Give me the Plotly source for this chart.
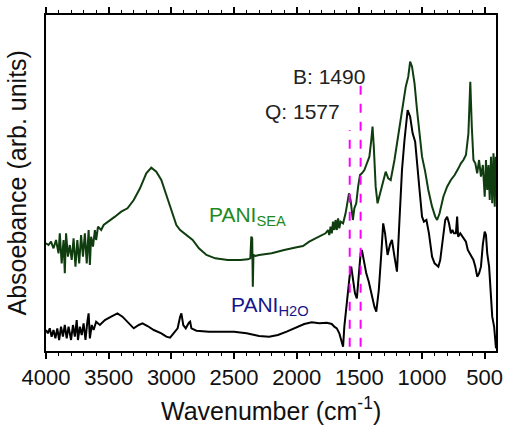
import plotly.graph_objects as go

# PANI_SEA spectrum (wavenumber, absorbance arb. units)
sea_wn = [4000, 3980, 3960, 3940, 3920, 3900, 3890, 3875, 3860, 3850, 3840, 3825, 3810, 3795, 3780, 3765,
          3750, 3735, 3720, 3705, 3690, 3675, 3660, 3650, 3640, 3625, 3610, 3600, 3585, 3560, 3540, 3500,
          3450, 3400, 3350, 3300, 3250, 3200, 3160, 3120, 3080, 3040, 3000, 2960, 2930, 2880, 2830, 2780,
          2720, 2650, 2550, 2450, 2390, 2370, 2362, 2355, 2350, 2345, 2330, 2300, 2200, 2100, 2050, 2000,
          1950, 1900, 1850, 1800, 1770, 1750, 1740, 1730, 1720, 1710, 1700, 1690, 1680, 1670, 1660, 1650,
          1630, 1610, 1595, 1583, 1570, 1560, 1552, 1540, 1525, 1510, 1495, 1480, 1460, 1445, 1420, 1405,
          1395, 1385, 1370, 1355, 1335, 1310, 1290, 1270, 1250, 1220, 1190, 1160, 1130, 1110, 1095, 1080,
          1060, 1040, 1020, 1000, 975, 950, 920, 895, 880, 860, 830, 800, 770, 740, 710, 690,
          670, 650, 630, 615, 603, 590, 575, 560, 545, 530, 515, 500, 490, 480, 470, 460,
          450, 440, 430, 420, 412]
sea_abs = [32.3, 31.8, 32.8, 30.8, 33.3, 29.3, 35.3, 26.3, 33.3, 23.3, 35.3, 28.3, 31.8, 27.3, 33.8, 25.3,
           33.3, 26.3, 34.8, 28.3, 35.3, 26.3, 36.3, 25.8, 34.3, 31.3, 36.3, 33.3, 37.3, 36.3, 37.8, 38.8,
           40.3, 41.8, 42.8, 45.3, 48.8, 53.3, 55.0, 53.8, 51.3, 46.8, 42.3, 37.8, 36.3, 34.8, 33.3, 30.8,
           28.8, 27.8, 27.3, 27.3, 27.5, 27.8, 34.3, 33.8, 19.3, 28.8, 28.5, 28.8, 29.3, 30.3, 30.8, 31.1,
           31.5, 32.8, 33.8, 34.8, 35.3, 36.3, 34.8, 37.3, 35.3, 38.8, 36.3, 39.3, 36.3, 39.8, 36.8, 38.8,
           38.3, 41.3, 44.3, 47.3, 45.3, 41.3, 39.3, 42.8, 44.3, 49.3, 52.8, 53.3, 54.3, 55.8, 58.3, 63.3,
           67.3, 61.3, 49.3, 44.3, 47.3, 51.3, 53.8, 51.8, 51.3, 57.3, 64.3, 72.3, 79.3, 82.3, 86.8, 85.3,
           80.3, 72.3, 64.3, 58.3, 53.8, 48.3, 43.3, 40.3, 39.3, 41.3, 46.3, 49.3, 51.3, 52.8, 54.8, 56.3,
           57.3, 58.8, 65.3, 80.8, 67.3, 57.3, 56.3, 53.3, 57.3, 52.3, 55.8, 46.3, 57.3, 48.3, 55.8, 45.3,
           58.3, 44.3, 59.3, 43.3, 58.3]

# PANI_H2O spectrum
h2o_wn = [4000, 3985, 3970, 3955, 3940, 3925, 3910, 3895, 3880, 3865, 3850, 3835, 3820, 3800, 3785, 3770,
          3755, 3745, 3730, 3715, 3700, 3685, 3670, 3660, 3650, 3635, 3620, 3600, 3570, 3530, 3480, 3430,
          3390, 3340, 3300, 3260, 3230, 3190, 3140, 3080, 3040, 3010, 2980, 2950, 2930, 2920, 2905, 2885,
          2860, 2850, 2840, 2800, 2700, 2600, 2500, 2400, 2300, 2220, 2150, 2080, 2000, 1940, 1880, 1820,
          1760, 1720, 1700, 1680, 1660, 1640, 1630, 1620, 1605, 1590, 1578, 1565, 1552, 1535, 1520, 1505,
          1490, 1480, 1465, 1445, 1425, 1400, 1380, 1365, 1345, 1325, 1310, 1295, 1275, 1255, 1240, 1220,
          1200, 1180, 1160, 1140, 1115, 1095, 1075, 1055, 1040, 1020, 1000, 985, 965, 945, 920, 900,
          885, 870, 855, 835, 815, 800, 785, 770, 758, 745, 730, 720, 712, 695, 670, 650,
          635, 620, 605, 590, 575, 560, 545, 530, 515, 500, 490, 480, 465, 450, 440, 425,
          415, 410]
h2o_abs = [6.3, 5.3, 6.8, 4.3, 6.3, 3.8, 6.8, 3.3, 7.3, 4.3, 7.8, 3.8, 7.3, 3.3, 7.8, 4.3,
           9.3, 3.3, 7.3, 4.8, 8.3, 3.3, 8.8, 11.3, 3.8, 7.8, 6.3, 8.8, 7.8, 9.3, 10.3, 11.3,
           10.3, 8.5, 6.8, 7.8, 8.3, 7.5, 6.3, 5.3, 4.3, 4.0, 5.3, 6.8, 10.3, 11.3, 7.8, 6.8,
           8.5, 8.8, 6.8, 6.1, 5.8, 5.7, 5.8, 5.3, 4.5, 4.3, 4.8, 5.8, 7.0, 8.1, 8.6, 8.3,
           8.5, 8.1, 7.3, 6.8, 5.3, 2.8, 1.3, 7.3, 13.3, 18.3, 22.3, 25.3, 22.3, 17.3, 15.8, 22.3,
           29.3, 30.3, 27.3, 23.3, 20.8, 16.3, 13.3, 11.8, 18.3, 29.3, 38.3, 35.3, 28.8, 32.0, 33.3, 28.3,
           23.8, 39.3, 54.3, 63.3, 72.3, 70.3, 65.3, 62.8, 57.3, 48.3, 40.3, 38.8, 39.3, 35.3, 28.3, 26.3,
           25.8, 25.3, 27.3, 33.3, 39.3, 40.3, 38.3, 35.3, 36.3, 35.3, 35.3, 40.3, 34.3, 35.3, 33.8, 32.8,
           30.3, 29.3, 28.3, 27.3, 25.3, 22.3, 23.3, 25.3, 32.0, 35.8, 34.8, 29.3, 25.3, 17.3, 10.3, 7.3,
           1.3, 0.8]

# marker lines at band positions
marker_wn = [1577, 1490]
marker_top = [66.3, 79.8]
marker_bottom = 1.3

x_range = [4000, 410]
y_range = [0, 100.8]
major_step = 500
minor_step = 100

FONT = "Liberation Sans, Arial, sans-serif"

fig = go.Figure()
fig.add_trace(go.Scatter(x=sea_wn, y=sea_abs, mode="lines",
                         line=dict(color="#0f3d0f", width=2), showlegend=False))
fig.add_trace(go.Scatter(x=h2o_wn, y=h2o_abs, mode="lines",
                         line=dict(color="#000000", width=2), showlegend=False))
for wn, top in zip(marker_wn, marker_top):
    fig.add_trace(go.Scatter(x=[wn, wn], y=[marker_bottom, top], mode="lines",
                             line=dict(color="#ff00ff", width=2, dash="dash"), showlegend=False))
# empty trace on the top / right frame axes so that they are drawn
fig.add_trace(go.Scatter(x=x_range, y=[None, None], xaxis="x2", yaxis="y2", mode="lines",
                         showlegend=False, hoverinfo="skip"))

fig.add_annotation(x=1440, y=82.5, text="B: 1490", showarrow=False, xanchor="right",
                   font=dict(family=FONT, size=21, color="#222222"))
fig.add_annotation(x=1640, y=71.8, text="Q: 1577", showarrow=False, xanchor="right",
                   font=dict(family=FONT, size=21, color="#222222"))
fig.add_annotation(x=2715, y=40.5, text="PANI<sub>SEA</sub>", showarrow=False, xanchor="left",
                   font=dict(family=FONT, size=21, color="#1e8a1e"))
fig.add_annotation(x=2540, y=13.5, text="PANI<sub>H2O</sub>", showarrow=False, xanchor="left",
                   font=dict(family=FONT, size=21, color="#16168a"))

fig.add_annotation(xref="paper", yref="paper", x=0.5, y=-0.118, yanchor="top",
                   text="Wavenumber (cm<sup>-1</sup>)", showarrow=False,
                   font=dict(family=FONT, size=25, color="#111111"))
fig.add_annotation(xref="paper", yref="paper", x=-0.03, y=0.5, xanchor="right", textangle=-90,
                   text="Absoebance (arb. units)", showarrow=False,
                   font=dict(family=FONT, size=25, color="#111111"))

tick_style = dict(range=x_range, tickmode="linear", tick0=0, dtick=major_step,
                  ticks="outside", ticklen=6, tickwidth=1.5, tickcolor="black",
                  minor=dict(ticks="outside", dtick=minor_step, ticklen=3, tickwidth=1,
                             tickcolor="black"),
                  showline=True, linewidth=2, linecolor="black",
                  showgrid=False, zeroline=False)

fig.update_layout(
    xaxis=dict(tickfont=dict(family=FONT, size=22, color="#111111"), **tick_style),
    xaxis2=dict(overlaying="x", side="top", anchor="y2", showticklabels=False, **tick_style),
    yaxis=dict(range=y_range, showticklabels=False, ticks="",
               showline=True, linewidth=2, linecolor="black",
               showgrid=False, zeroline=False),
    yaxis2=dict(range=y_range, overlaying="y", side="right", anchor="x2",
                showticklabels=False, ticks="",
                showline=True, linewidth=2, linecolor="black",
                showgrid=False, zeroline=False),
    width=511, height=425, margin=dict(l=46, r=8, t=15, b=74),
    plot_bgcolor="white", paper_bgcolor="white",
)

fig.write_html("out.html", config={"displayModeBar": False},
               post_script="document.body.style.margin='0';document.body.style.overflow='hidden';")
